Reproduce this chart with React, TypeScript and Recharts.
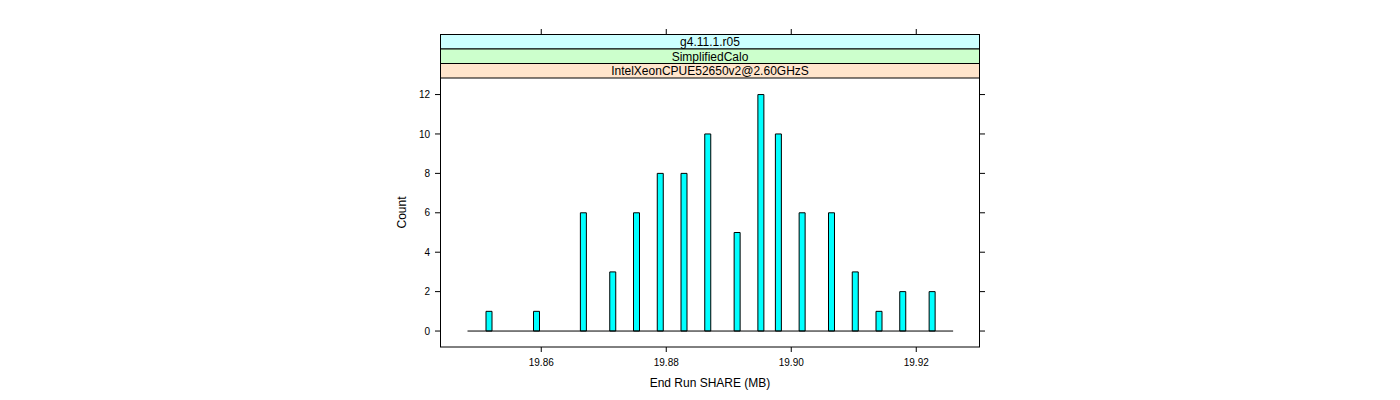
import React from 'react';
import { ComposedChart, Bar, XAxis, YAxis, ReferenceLine, Customized } from 'recharts';

// ---- data ----
const binCenters = [19.8516, 19.8592, 19.8667, 19.8714, 19.8752, 19.879, 19.8828, 19.8866, 19.8913, 19.8951, 19.8979, 19.9017, 19.9064, 19.9102, 19.914, 19.9178, 19.9225];
const counts = [1, 1, 6, 3, 6, 8, 8, 10, 5, 12, 10, 6, 6, 3, 1, 2, 2];
const histRange = [19.8482, 19.9259];
const xTicks = [19.86, 19.88, 19.9, 19.92];
const yTicks = [0, 2, 4, 6, 8, 10, 12];
const xDomain = [19.8438, 19.9302];
const yDomain = [-0.81, 12.84];
const stripLabels = ['g4.11.1.r05', 'SimplifiedCalo', 'IntelXeonCPUE52650v2@2.60GHzS'];
const stripColors = ['#CCFFFF', '#CCFFCC', '#FFE5CC'];
const xLabel = 'End Run SHARE (MB)';
const yLabel = 'Count';

const data = binCenters.map((mb, i) => ({ mb, count: counts[i] }));

// ---- layout ----
const W = 1400;
const H = 400;
const PLOT_L = 440;
const PLOT_R = 980;
const PLOT_T = 78;
const PLOT_B = 347;
const STRIP_TOP = 34.5;
const STRIP_H = (PLOT_T - STRIP_TOP) / 3;
const FONT = '"Liberation Sans", Arial, Helvetica, sans-serif';

const Decorations = () => (
  <g>
    {stripLabels.map((lab, i) => {
      const y = STRIP_TOP + i * STRIP_H;
      return (
        <g key={lab}>
          <rect x={PLOT_L + 0.5} y={y} width={PLOT_R - PLOT_L - 1} height={STRIP_H} fill={stripColors[i]} stroke="#000" strokeWidth={1} />
          <text x={(PLOT_L + PLOT_R) / 2} y={y + STRIP_H / 2 + 4.3} textAnchor="middle" fontSize={12} fontFamily={FONT} fill="#000">
            {lab}
          </text>
        </g>
      );
    })}
    <rect x={PLOT_L + 0.5} y={STRIP_TOP} width={PLOT_R - PLOT_L - 1} height={PLOT_B - STRIP_TOP} fill="none" stroke="#000" strokeWidth={1} />
    <text x={(PLOT_L + PLOT_R) / 2} y={387} textAnchor="middle" fontSize={12} fontFamily={FONT} fill="#000">
      {xLabel}
    </text>
    <text x={406} y={(PLOT_T + PLOT_B) / 2} textAnchor="middle" fontSize={12} fontFamily={FONT} fill="#000" transform={`rotate(-90 406 ${(PLOT_T + PLOT_B) / 2})`}>
      {yLabel}
    </text>
  </g>
);

const TopTick = (p: any) => (
  <line x1={p.x} x2={p.x} y1={29} y2={34.5} stroke="#000" strokeWidth={1} />
);

const EmptyTick = () => <g />;

export default function App() {
  return (
    <div style={{ position: 'absolute', left: 0, top: 0, width: W, height: H, background: '#fff' }}>
      <ComposedChart
        width={W}
        height={H}
        data={data}
        margin={{ top: PLOT_T - 44, right: W - PLOT_R - 20, bottom: H - PLOT_B - 30, left: PLOT_L - 40 }}
      >
        <XAxis
          xAxisId="bottom"
          type="number"
          dataKey="mb"
          domain={xDomain}
          ticks={xTicks}
          allowDataOverflow
          tickFormatter={(v: number) => v.toFixed(2)}
          height={30}
          tickSize={5}
          tickMargin={7}
          axisLine={false}
          tickLine={{ stroke: '#000' }}
          tick={{ fontSize: 10, fontFamily: FONT, fill: '#000' }}
        />
        <XAxis
          xAxisId="top"
          orientation="top"
          type="number"
          dataKey="mb"
          domain={xDomain}
          ticks={xTicks}
          allowDataOverflow
          height={44}
          axisLine={false}
          tickLine={false}
          tick={TopTick}
        />
        <YAxis
          yAxisId="left"
          type="number"
          domain={yDomain}
          ticks={yTicks}
          allowDataOverflow
          width={40}
          tickSize={5}
          tickMargin={5}
          axisLine={false}
          tickLine={{ stroke: '#000' }}
          tick={{ fontSize: 10, fontFamily: FONT, fill: '#000' }}
        />
        <YAxis
          yAxisId="right"
          orientation="right"
          type="number"
          domain={yDomain}
          ticks={yTicks}
          allowDataOverflow
          width={20}
          tickSize={5}
          axisLine={false}
          tickLine={{ stroke: '#000' }}
          tick={EmptyTick}
        />
        <ReferenceLine
          xAxisId="bottom"
          yAxisId="left"
          segment={[{ x: histRange[0], y: 0 }, { x: histRange[1], y: 0 }]}
          stroke="#000"
          strokeWidth={1}
        />
        <Bar
          xAxisId="bottom"
          yAxisId="left"
          dataKey="count"
          barSize={6}
          fill="#00FFFF"
          stroke="#000"
          strokeWidth={1}
          isAnimationActive={false}
        />
        <Customized component={<Decorations />} />
      </ComposedChart>
    </div>
  );
}
